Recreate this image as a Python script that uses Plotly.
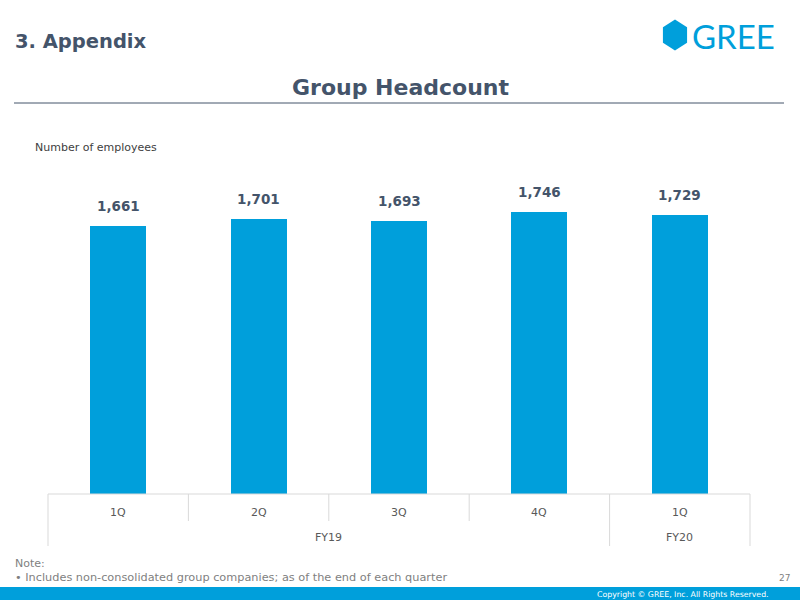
import math
import plotly.graph_objects as go

# ---- data ----
quarters = ["1Q", "2Q", "3Q", "4Q", "1Q"]
fiscal_years = ["FY19", "FY19", "FY19", "FY19", "FY20"]
headcount = [1661, 1701, 1693, 1746, 1729]

# ---- layout geometry (pixels) ----
W, H = 800, 600
L, R, T, B = 48, 750, 171, 494
PW, PH = R - L, B - T

def px(x):
    return (x - L) / PW

def py(y):
    return (B - y) / PH

BLUE = "#009fdb"
DARK = "#44546a"
GRAY = "#595959"
FONT = "DejaVu Sans"

n = len(quarters)
fig = go.Figure()
fig.add_trace(go.Bar(
    x=list(range(n)), y=headcount,
    marker=dict(color=BLUE, line=dict(width=0)),
    width=0.4,
    hoverinfo="skip",
))

shapes = []
annotations = []

# value labels
for i, v in enumerate(headcount):
    annotations.append(dict(x=i, y=v, xref="x", yref="y", text=f"<b>{v:,}</b>",
                            showarrow=False, xanchor="center", yanchor="bottom", yshift=10,
                            font=dict(family=FONT, size=13.5, color=DARK)))

# category table lines
shapes.append(dict(type="line", xref="paper", yref="paper", x0=0, x1=1, y0=0, y1=0,
                   line=dict(color="#d9d9d9", width=1)))
for i in range(n + 1):
    if i == 0 or i == n or fiscal_years[i] != fiscal_years[i - 1]:
        y1 = py(546)
    else:
        y1 = py(521)
    shapes.append(dict(type="line", xref="paper", yref="paper", x0=i / n, x1=i / n,
                       y0=0, y1=y1, line=dict(color="#d9d9d9", width=1)))

# quarter labels
for i, q in enumerate(quarters):
    annotations.append(dict(x=(i + 0.5) / n, y=py(512), xref="paper", yref="paper",
                            text=q, showarrow=False, xanchor="center", yanchor="middle",
                            font=dict(family=FONT, size=11, color=GRAY)))
# fiscal-year labels
groups = []
for i, fy in enumerate(fiscal_years):
    if groups and groups[-1][0] == fy:
        groups[-1][2] = i
    else:
        groups.append([fy, i, i])
for fy, a, b in groups:
    annotations.append(dict(x=(a + b + 1) / 2 / n, y=py(537), xref="paper", yref="paper",
                            text=fy, showarrow=False, xanchor="center", yanchor="middle",
                            font=dict(family=FONT, size=11, color=GRAY)))

# header texts
annotations.append(dict(x=px(13), y=py(41), xref="paper", yref="paper", text="<b>3. Appendix</b>",
                        showarrow=False, xanchor="left", yanchor="middle",
                        font=dict(family=FONT, size=19.5, color=DARK)))
annotations.append(dict(x=px(400), y=py(88), xref="paper", yref="paper", text="<b>Group Headcount</b>",
                        showarrow=False, xanchor="center", yanchor="middle",
                        font=dict(family=FONT, size=22, color=DARK)))
shapes.append(dict(type="line", xref="paper", yref="paper", x0=px(14), x1=px(784),
                   y0=py(103), y1=py(103), line=dict(color="#44546a", width=1)))
annotations.append(dict(x=px(33), y=py(147), xref="paper", yref="paper", text="Number of employees",
                        showarrow=False, xanchor="left", yanchor="middle",
                        font=dict(family=FONT, size=11, color="#404040")))

# logo
hx, hy, hr = 675, 35, 15.5
pts = [(hx + hr * 0.9 * math.sin(math.radians(a)), hy - hr * math.cos(math.radians(a)))
       for a in range(0, 360, 60)]
path = "M " + " L ".join(f"{px(x)},{py(y)}" for x, y in pts) + " Z"
shapes.append(dict(type="path", xref="paper", yref="paper", path=path,
                   fillcolor=BLUE, line=dict(width=0)))
annotations.append(dict(x=px(690), y=py(36), xref="paper", yref="paper", text="GREE",
                        showarrow=False, xanchor="left", yanchor="middle",
                        font=dict(family="Lato", size=33, color=BLUE)))

# notes
annotations.append(dict(x=px(13), y=py(563), xref="paper", yref="paper", text="Note:",
                        showarrow=False, xanchor="left", yanchor="middle",
                        font=dict(family=FONT, size=11, color="#7f7f7f")))
annotations.append(dict(x=px(13), y=py(577), xref="paper", yref="paper",
                        text="• Includes non-consolidated group companies; as of the end of each quarter",
                        showarrow=False, xanchor="left", yanchor="middle",
                        font=dict(family=FONT, size=11.3, color="#7f7f7f")))
annotations.append(dict(x=px(792), y=py(578), xref="paper", yref="paper", text="27",
                        showarrow=False, xanchor="right", yanchor="middle",
                        font=dict(family=FONT, size=9, color="#7f7f7f")))

# bottom band
shapes.append(dict(type="rect", xref="paper", yref="paper", x0=px(0), x1=px(800),
                   y0=py(600), y1=py(587), fillcolor=BLUE, line=dict(width=0)))
annotations.append(dict(x=px(771), y=py(594), xref="paper", yref="paper",
                        text="Copyright © GREE, Inc. All Rights Reserved.",
                        showarrow=False, xanchor="right", yanchor="middle",
                        font=dict(family=FONT, size=7.8, color="white")))

fig.update_layout(
    width=W, height=H,
    margin=dict(l=L, r=W - R, t=T, b=H - B, pad=0),
    paper_bgcolor="white", plot_bgcolor="white",
    showlegend=False,
    xaxis=dict(range=[-0.5, n - 0.5], visible=False, fixedrange=True),
    yaxis=dict(range=[0, 2000], visible=False, fixedrange=True),
    shapes=shapes, annotations=annotations,
    bargap=0,
)
fig.write_html("out.html")
